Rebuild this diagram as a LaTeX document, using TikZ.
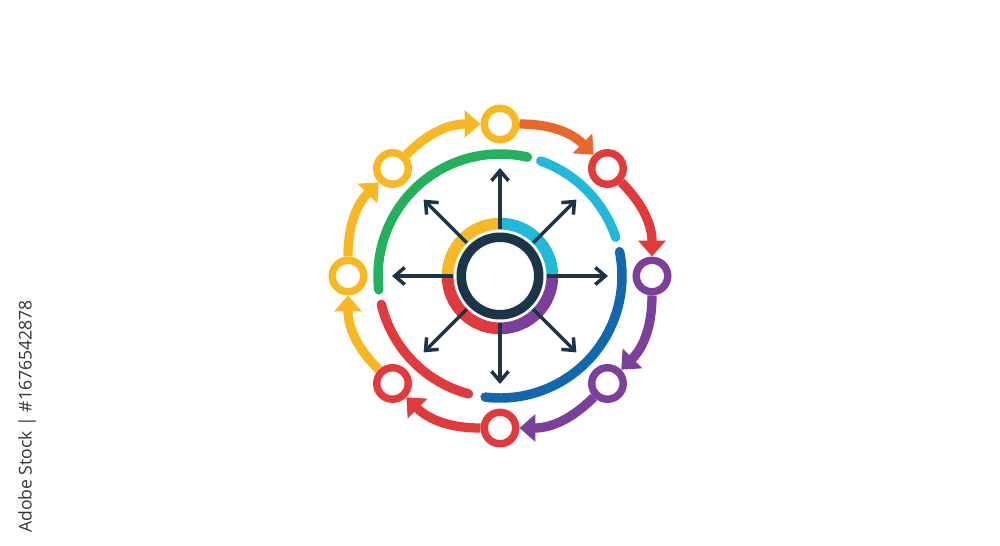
\documentclass[tikz,border=0pt]{standalone}
\usepackage{fontspec}
\usepackage{tikz}
\usetikzlibrary{arrows.meta}
\setsansfont{Open Sans}
\definecolor{wyellow}{HTML}{F8B824}
\definecolor{worange}{HTML}{E8682C}
\definecolor{wred}{HTML}{E13A3C}
\definecolor{wpurple}{HTML}{7C409B}
\definecolor{wgreen}{HTML}{23B160}
\definecolor{wcyan}{HTML}{22B8D8}
\definecolor{wblue}{HTML}{1268AE}
\definecolor{wnavy}{HTML}{1B3447}

\begin{document}
\begin{tikzpicture}[station/.style={circle, draw=#1, fill=white, line width=4.25pt, minimum size=0.63cm, inner sep=0pt},
    flow/.style={draw=#1, line width=5.3pt, -{Triangle[length=0.32cm, width=0.54cm]}},
    band/.style={draw=#1, line width=5.4pt, line cap=round},
    quarter/.style={draw=#1, line width=6.7pt},
    spoke/.style={draw=wnavy, line width=2pt, -{Straight Barb[length=0.2cm, width=0.34cm]}}]
      \useasboundingbox (-10,-5.38) rectangle (10,5.52);
      \draw[quarter=wcyan] (0:1.048) arc[start angle=0, end angle=90, radius=1.048];
      \draw[quarter=wyellow] (90:1.048) arc[start angle=90, end angle=180, radius=1.048];
      \draw[quarter=wred] (180:1.048) arc[start angle=180, end angle=270, radius=1.048];
      \draw[quarter=wpurple] (270:1.048) arc[start angle=270, end angle=360, radius=1.048];
      \node[circle, draw=wnavy, fill=white, line width=5.4pt, minimum size=1.55cm, outer sep=4.7pt] (hub) at (0,0) {};
      \coordinate (tipN) at (90:2.16);
      \coordinate (tipNE) at (45:2.16);
      \coordinate (tipE) at (0:2.16);
      \coordinate (tipSE) at (-45:2.16);
      \coordinate (tipS) at (-90:2.16);
      \coordinate (tipSW) at (-135:2.16);
      \coordinate (tipW) at (180:2.16);
      \coordinate (tipNW) at (135:2.16);
      \draw[spoke] (hub) -- (tipN);
      \draw[spoke] (hub) -- (tipNE);
      \draw[spoke] (hub) -- (tipE);
      \draw[spoke] (hub) -- (tipSE);
      \draw[spoke] (hub) -- (tipS);
      \draw[spoke] (hub) -- (tipSW);
      \draw[spoke] (hub) -- (tipW);
      \draw[spoke] (hub) -- (tipNW);
      \draw[band=wgreen] (77:2.44) arc[start angle=77, end angle=186.5, radius=2.44];
      \draw[band=wred] (193.5:2.44) arc[start angle=193.5, end angle=255, radius=2.44];
      \draw[band=wblue] (263:2.44) arc[start angle=263, end angle=371.5, radius=2.44];
      \draw[band=wcyan] (18.5:2.44) arc[start angle=18.5, end angle=70.5, radius=2.44];
      \node[station=wyellow] (sN) at (90:3.04) {};
      \node[station=wred] (sNE) at (45:3.04) {};
      \node[station=wpurple] (sE) at (0:3.04) {};
      \node[station=wpurple] (sSE) at (-45:3.04) {};
      \node[station=wred] (sS) at (-90:3.04) {};
      \node[station=wred] (sSW) at (-135:3.04) {};
      \node[station=wyellow] (sW) at (180:3.04) {};
      \node[station=wyellow] (sNW) at (135:3.04) {};
      \draw[flow=wyellow] (sNW) to[bend left=22.5] (sN);
      \draw[flow=worange] (sN) to[bend left=22.5] (sNE);
      \draw[flow=wred] (sNE) to[bend left=22.5] (sE);
      \draw[flow=wpurple] (sE) to[bend left=22.5] (sSE);
      \draw[flow=wpurple] (sSE) to[bend left=22.5] (sS);
      \draw[flow=wred] (sS) to[bend left=22.5] (sSW);
      \draw[flow=wyellow] (sSW) to[bend left=22.5] (sW);
      \draw[flow=wyellow] (sW) to[bend left=22.5] (sNW);
      \node[rotate=90, text=black!80, font=\sffamily\fontsize{10}{12}\selectfont] (credit) at (-9.46,-2.81) {Adobe Stock | \#1676542878};
\end{tikzpicture}
\end{document}
